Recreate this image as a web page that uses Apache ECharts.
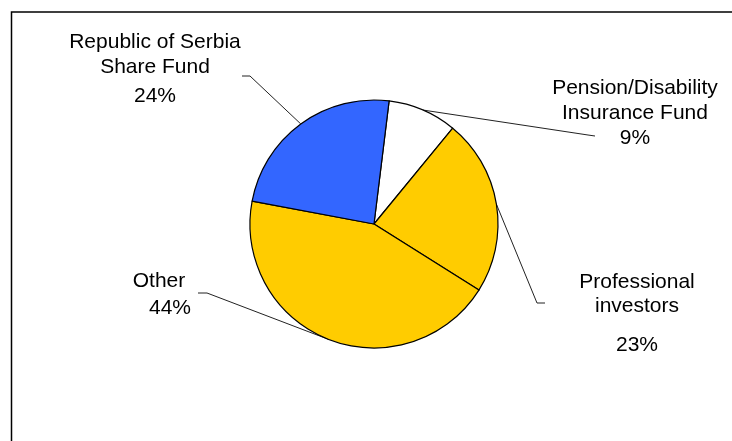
<!DOCTYPE html>
<html>
<head>
<meta charset="utf-8">
<script src="https://cdn.jsdelivr.net/npm/echarts@6/dist/echarts.min.js"></script>
<style>
html,body{margin:0;padding:0;background:#fff;}
#chart{width:732px;height:441px;}
</style>
</head>
<body>
<div id="chart"></div>
<script>
// Data (clockwise from near 12 o'clock)
const categories = ['Pension/Disability\nInsurance Fund', 'Professional\ninvestors', 'Other', 'Republic of Serbia\nShare Fund'];
const shares = [9, 23, 44, 24];
const colors = ['#FFFFFF', '#FFCC00', '#FFCC00', '#3366FF'];

// label placement (text block centres and leader-line bends)
const labelPos = [
  {x: 635, y: 113, bend: [[588, 135], [595, 136]]},
  {x: 637, y: 321, bend: [[537, 303], [545, 303]]},
  {x: 159, y: 295, bend: [[207, 293], [198, 293]]},
  {x: 155, y: 71,  bend: [[250, 76], [242, 76]]}
];

const richStyles = {
  n:  {fontSize: 21, lineHeight: 25, color: '#000', fontFamily: 'Liberation Sans, Arial, sans-serif'},
  r3: {fontSize: 21, lineHeight: 32, color: '#000', fontFamily: 'Liberation Sans, Arial, sans-serif'},
  p1: {fontSize: 21, lineHeight: 25, color: '#000', fontFamily: 'Liberation Sans, Arial, sans-serif'},
  p2: {fontSize: 21, lineHeight: 24, color: '#000', fontFamily: 'Liberation Sans, Arial, sans-serif'},
  p3: {fontSize: 21, lineHeight: 54, color: '#000', fontFamily: 'Liberation Sans, Arial, sans-serif'},
  o1: {fontSize: 21, lineHeight: 27, color: '#000', fontFamily: 'Liberation Sans, Arial, sans-serif'},
  o2: {fontSize: 21, lineHeight: 27, color: '#000', fontFamily: 'Liberation Sans, Arial, sans-serif', padding: [0, 0, 0, 22]}
};

function fmt(params) {
  const lines = categories[params.dataIndex].split('\n');
  const pct = params.value + '%';
  switch (params.dataIndex) {
    case 0: return '{n|' + lines[0] + '}\n{n|' + lines[1] + '}\n{n|' + pct + '}';
    case 1: return '{p2|' + lines[0] + '}\n{p2|' + lines[1] + '}\n{p3|' + pct + '}';
    case 2: return '{o1|' + lines[0] + '}\n{o2|' + pct + '}';
    default: return '{n|' + lines[0] + '}\n{n|' + lines[1] + '}\n{r3|' + pct + '}';
  }
}

const chart = echarts.init(document.getElementById('chart'), null, {renderer: 'canvas'});
chart.setOption({
  backgroundColor: '#fff',
  animation: false,
  graphic: [{
    type: 'rect',
    shape: {x: 11.5, y: 12, width: 760, height: 460},
    style: {fill: 'none', stroke: '#000', lineWidth: 1.5},
    silent: true
  }],
  series: [{
    type: 'pie',
    center: [374, 224],
    radius: 124,
    startAngle: 83,
    clockwise: true,
    avoidLabelOverlap: false,
    data: categories.map((c, i) => ({name: c, value: shares[i], itemStyle: {color: colors[i]}})),
    itemStyle: {borderColor: '#000', borderWidth: 1.2},
    label: {
      show: true,
      position: 'outside',
      formatter: fmt,
      rich: richStyles,
      align: 'center'
    },
    labelLine: {
      show: true,
      length: 20,
      length2: 10,
      lineStyle: {color: '#222', width: 1}
    },
    labelLayout: function (params) {
      const p = labelPos[params.dataIndex];
      const start = params.labelLinePoints ? params.labelLinePoints[0] : [0, 0];
      return {
        x: p.x,
        y: p.y,
        align: 'center',
        verticalAlign: 'middle',
        labelLinePoints: [start, p.bend[0], p.bend[1]]
      };
    },
    emphasis: {disabled: true}
  }]
});
</script>
</body>
</html>
